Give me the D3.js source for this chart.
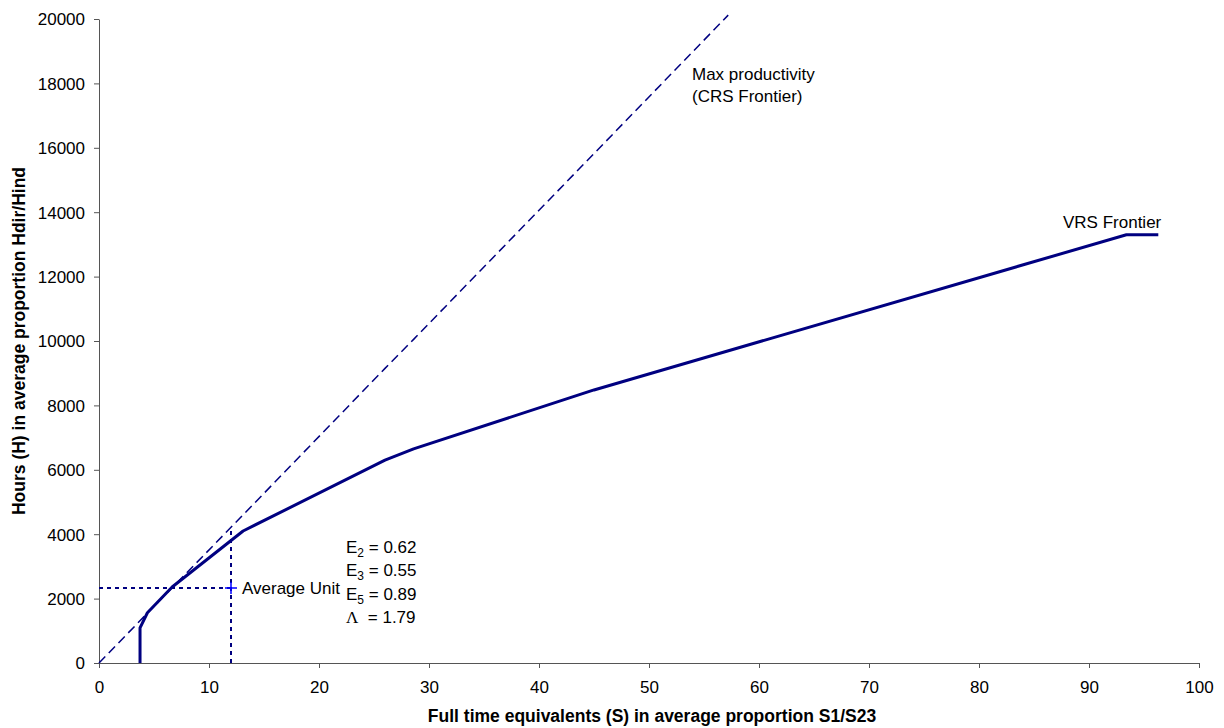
<!DOCTYPE html>
<html><head><meta charset="utf-8">
<script src="https://cdn.jsdelivr.net/npm/d3@7"></script>
<style>body{margin:0;background:#fff}svg{font-family:"Liberation Sans",Arial,sans-serif}</style>
</head><body><svg id="c" width="1224" height="728"></svg>
<script>
const xTicks = [0,10,20,30,40,50,60,70,80,90,100];
const yTicks = [0,2000,4000,6000,8000,10000,12000,14000,16000,18000,20000];
const vrsS = [3.73, 3.73, 4.4, 6.65, 13.1, 26.0, 28.6, 45.0, 93.4, 96.3];
const vrsH = [0, 1090, 1560, 2360, 4100, 6300, 6650, 8480, 13300, 13300];
const crsS = [0, 6.65, 8.0, 13.1, 26.0, 28.6, 45.0, 57.2];
const crsH = [0, 2340, 2810, 4600, 9150, 10050, 15820, 20120];
const avgUnit = {s: 12.0, h: 2330};
const avgVertTop = 4120;
const effLabels = [["E","2"," = 0.62"],["E","3"," = 0.55"],["E","5"," = 0.89"],["Λ","","  = 1.79"]];

const FS = 17;
const svg = d3.select("#c");
const x = d3.scaleLinear().domain([0,100]).range([99,1199]);
const y = d3.scaleLinear().domain([0,20000]).range([663,19]);
const navy = "#000080";

const xa = svg.append("g").attr("transform","translate(0,663)")
  .call(d3.axisBottom(x).tickValues(xTicks).tickFormat(d3.format("d")).tickSize(5).tickPadding(13).tickSizeOuter(0));
const ya = svg.append("g").attr("transform","translate(99,0)")
  .call(d3.axisLeft(y).tickValues(yTicks).tickFormat(d3.format("d")).tickSize(5).tickPadding(9).tickSizeOuter(0));
[xa,ya].forEach(a=>{
  a.selectAll("path,line").attr("stroke","#555");
  a.selectAll("text").attr("font-size",FS).attr("fill","#000").attr("font-family","Liberation Sans, Arial, sans-serif");
});
ya.selectAll("text").attr("dy","0.35em");

svg.append("text").attr("x",652).attr("y",722).attr("text-anchor","middle")
  .attr("font-size",17.5).attr("font-weight","bold").text("Full time equivalents (S) in average proportion S1/S23");
svg.append("text").attr("transform","translate(25,341) rotate(-90)").attr("text-anchor","middle")
  .attr("font-size",17.5).attr("font-weight","bold").text("Hours (H) in average proportion Hdir/Hind");

const line = d3.line().x(d=>x(d[0])).y(d=>y(d[1]));
// CRS dashed
svg.append("path").datum(crsS.map((s,i)=>[s,crsH[i]]))
  .attr("d",line).attr("fill","none").attr("stroke",navy).attr("stroke-width",1.5)
  .attr("stroke-dasharray","9,5");
// VRS
svg.append("path").datum(vrsS.map((s,i)=>[s,vrsH[i]]))
  .attr("d",line).attr("fill","none").attr("stroke",navy).attr("stroke-width",3)
  .attr("stroke-linejoin","round");
// average unit guides
svg.append("path").datum([[0,avgUnit.h],[avgUnit.s,avgUnit.h]])
  .attr("d",line).attr("fill","none").attr("stroke",navy).attr("stroke-width",2).attr("stroke-dasharray","4,4");
svg.append("path").datum([[avgUnit.s,0],[avgUnit.s,avgVertTop]])
  .attr("d",line).attr("fill","none").attr("stroke",navy).attr("stroke-width",2).attr("stroke-dasharray","4,4");
// cross
const cx = x(avgUnit.s), cy = y(avgUnit.h);
svg.append("path").attr("d",`M${cx-6},${cy}H${cx+6}M${cx},${cy-6}V${cy+6}`)
  .attr("stroke","#0000ff").attr("stroke-width",1.5);

svg.append("text").attr("x",cx+11).attr("y",cy+6).attr("font-size",FS).text("Average Unit");

const eg = svg.append("g");
effLabels.forEach((l,i)=>{
  const t = eg.append("text").attr("x",346).attr("y",553+i*23.3).attr("font-size",FS).attr("xml:space","preserve");
  const first = t.append("tspan").text(l[0]);
  if(!l[1]) first.attr("font-family","Liberation Serif, Times New Roman, serif");
  if(l[1]) t.append("tspan").attr("font-size",12).attr("dy",4).text(l[1]);
  t.append("tspan").attr("dy", l[1]? -4 : 0).text(l[2]);
});

svg.append("text").attr("x",692).attr("y",80).attr("font-size",FS).text("Max productivity");
svg.append("text").attr("x",692).attr("y",102).attr("font-size",FS).text("(CRS Frontier)");
svg.append("text").attr("x",1063).attr("y",228).attr("font-size",FS).text("VRS Frontier");
</script></body></html>
